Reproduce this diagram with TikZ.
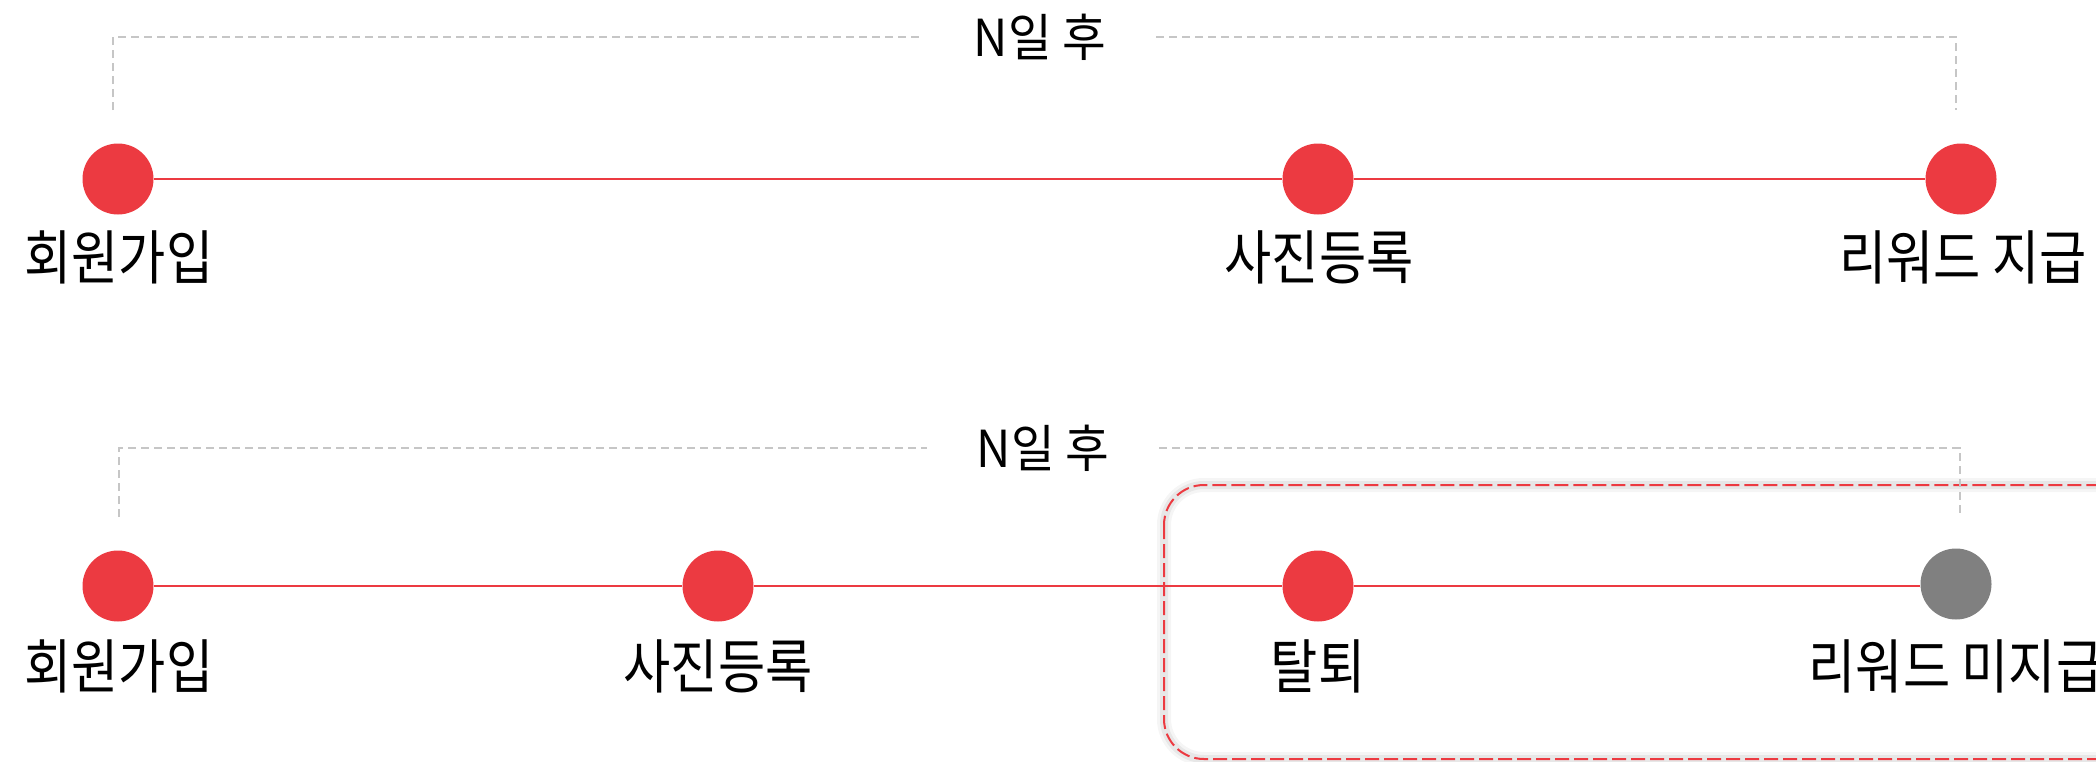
\documentclass[tikz,border=0pt]{standalone}
\usepackage{fontspec}
\newfontfamily\kr{Noto Sans CJK KR}[FakeStretch=0.87]
\newfontfamily\krn{Noto Sans CJK KR}[FakeStretch=0.93]
\definecolor{dotred}{HTML}{EC3A41}
\definecolor{dotgray}{HTML}{808080}
\definecolor{dashgray}{HTML}{C6C6C6}
\begin{document}
\begin{tikzpicture}[x=1pt,y=-1pt,
  dot/.style={circle,fill=dotred,minimum size=71pt,inner sep=0pt},
  graydot/.style={dot,fill=dotgray},
  lbl/.style={anchor=base,inner sep=0pt,font=\kr\fontsize{59}{59}\selectfont},
  gaplbl/.style={inner xsep=50pt,inner ysep=0pt,font=\krn\fontsize{51}{51}\selectfont},
  gline/.style={draw=dashgray,line width=2.5pt,dash pattern=on 8pt off 5pt},
  rline/.style={draw=dotred,line width=2pt},
  rbox/.style={draw=dotred,line width=2pt,dash pattern=on 14pt off 5pt,rounded corners=40pt},
  shadowbox/.style={draw=black,rounded corners=40pt}]
\useasboundingbox (0,0) rectangle (2096,761);
\clip (0,0) rectangle (2096,761);
% ---------- top row ----------
\node[gaplbl] (na) at (1040,37) {N일 후};
\coordinate (ta1) at (113,110);
\coordinate (ta3) at (1956,110);
\draw[gline] (ta1) |- (na.west);
\draw[gline] (na.east) -| (ta3);
\node[dot] (a1) at (118,179) {};
\node[dot] (a2) at (1318,179) {};
\node[dot] (a3) at (1961,179) {};
\draw[rline] (a1) -- (a2) -- (a3);
\node[lbl] (la1) at (119,279) {회원가입};
\node[lbl] (la2) at (1319,279) {사진등록};
\node[lbl] (la3) at (1963,279) {리워드 지급};
% ---------- bottom row ----------
\coordinate (boxtl) at (1164,485);
\coordinate (boxbr) at (2240,759);
\draw[shadowbox,line width=14pt,opacity=0.04] (boxtl) rectangle (boxbr);
\draw[shadowbox,line width=8pt,opacity=0.06] (boxtl) rectangle (boxbr);
\draw[rbox] (boxtl) rectangle (boxbr);
\node[gaplbl] (nb) at (1043,448) {N일 후};
\coordinate (tb1) at (119,517);
\coordinate (tb4) at (1960,517);
\draw[gline] (tb1) |- (nb.west);
\draw[gline] (nb.east) -| (tb4);
\node[dot] (b1) at (118,586) {};
\node[dot] (b2) at (718,586) {};
\node[dot] (b3) at (1318,586) {};
\node[graydot] (b4) at (1956,584) {};
\draw[rline] (b1) -- (b2) -- (b3) -- (b3.east -| b4.west);
\node[lbl] (lb1) at (119,688) {회원가입};
\node[lbl] (lb2) at (718,688) {사진등록};
\node[lbl] (lb3) at (1318,688) {탈퇴};
\node[lbl] (lb4) at (1956,688) {리워드 미지급};
\end{tikzpicture}
\end{document}
